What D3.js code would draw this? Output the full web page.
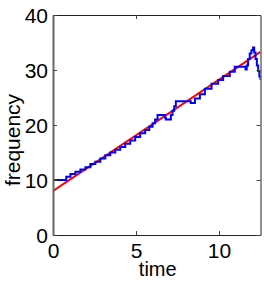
<!DOCTYPE html>
<html>
<head>
<meta charset="utf-8">
<script src="https://cdn.jsdelivr.net/npm/d3@7"></script>
<style>
  body { margin: 0; background: #fff; }
  svg { display: block; font-family: "Liberation Sans", Arial, sans-serif; }
</style>
</head>
<body>
<svg id="chart" width="264" height="281"></svg>
<script>
// eixo x (tempo) e eixo y (frequencia)
const xTicks = [0, 5, 10];
const yTicks = [0, 10, 20, 30, 40];

// serie medida (azul), em degraus
const blueTime = [0, 0.8, 1.05, 1.35, 1.65, 1.95, 2.25, 2.55, 2.85, 3.15, 3.45, 3.75,
  4.05, 4.35, 4.65, 4.95, 5.25, 5.55, 5.8, 6.0, 6.15, 6.3, 6.75, 6.8, 7.1, 7.2, 7.3, 7.4,
  8.3, 8.55, 8.85, 9.15, 9.55, 9.95, 10.25, 10.65, 10.95, 11.6, 11.67, 11.75, 11.85,
  11.95, 12.05, 12.12, 12.2, 12.28, 12.36, 12.43, 12.5];
const blueFreq = [10.0, 10.6, 11.1, 11.5, 11.9, 12.3, 12.9, 13.3, 13.9, 14.5, 15.0, 15.5,
  16.0, 16.6, 17.2, 17.8, 18.5, 19.1, 19.7, 20.3, 21.0, 21.8, 21.3, 21.0, 21.8, 22.6, 23.4, 24.3,
  24.0, 24.8, 25.6, 26.6, 27.5, 28.2, 28.9, 29.7, 30.6, 30.1, 30.8, 32.0, 33.0,
  33.6, 34.1, 33.2, 32.0, 30.8, 29.8, 28.8, 28.2];

// ajuste linear (vermelho)
const redTime = [0, 12.5];
const redFreq = [8.0, 33.3];

const vis = {
  dims: { w: 264, h: 281, left: 53, right: 260.5, top: 15, bottom: 235 },

  draw: function() {
    const d = vis.dims;
    const svg = d3.select("#chart");

    const x = d3.scaleLinear().domain([0, 12.5]).range([d.left, d.right]);
    const y = d3.scaleLinear().domain([0, 40]).range([d.bottom, d.top]);

    svg.append("clipPath").attr("id", "clip")
      .append("rect")
      .attr("x", d.left).attr("y", d.top)
      .attr("width", d.right - d.left).attr("height", d.bottom - d.top);

    const line = d3.line().x(p => x(p[0])).y(p => y(p[1]));

    const red = redTime.map((t, i) => [t, redFreq[i]]);
    const blue = blueTime.map((t, i) => [t, blueFreq[i]]);

    svg.append("path")
      .attr("clip-path", "url(#clip)")
      .attr("d", line(red))
      .attr("fill", "none")
      .attr("stroke", "#ff0000")
      .attr("stroke-width", 2);

    svg.append("path")
      .attr("clip-path", "url(#clip)")
      .attr("d", line.curve(d3.curveStepAfter)(blue))
      .attr("fill", "none")
      .attr("stroke", "#0000ff")
      .attr("stroke-width", 2);

    // eixos (ticks para dentro, em todos os lados)
    const tickLen = 4;
    const bottomAxis = svg.append("g").attr("transform", `translate(0,${d.bottom})`)
      .call(d3.axisBottom(x).tickValues(xTicks).tickSizeInner(-tickLen).tickSizeOuter(0).tickPadding(8));
    const topAxis = svg.append("g").attr("transform", `translate(0,${d.top})`)
      .call(d3.axisTop(x).tickValues(xTicks).tickSizeInner(-tickLen).tickSizeOuter(0).tickFormat(""));
    const leftAxis = svg.append("g").attr("transform", `translate(${d.left},0)`)
      .call(d3.axisLeft(y).tickValues(yTicks).tickSizeInner(-tickLen).tickSizeOuter(0).tickPadding(5));
    const rightAxis = svg.append("g").attr("transform", `translate(${d.right},0)`)
      .call(d3.axisRight(y).tickValues(yTicks).tickSizeInner(-tickLen).tickSizeOuter(0).tickFormat(""));

    [bottomAxis, topAxis, leftAxis, rightAxis].forEach(g => {
      g.select(".domain").attr("stroke", "#222").attr("stroke-width", 1);
      g.selectAll(".tick line").attr("stroke", "#444");
      g.selectAll("text")
        .attr("fill", "#000")
        .style("font-size", "21px")
        .style("font-family", "'Liberation Sans', Arial, sans-serif");
    });
    leftAxis.select(".domain").attr("stroke", "#666").attr("stroke-width", 2);
    leftAxis.selectAll("text").attr("dy", "0.36em");
    bottomAxis.selectAll("text").attr("dy", "0.72em");

    svg.append("text")
      .attr("x", (d.left + d.right) / 2 + 1)
      .attr("y", 276)
      .attr("text-anchor", "middle")
      .style("font-size", "20px")
      .text("time");

    svg.append("text")
      .attr("transform", `translate(20,${(d.top + d.bottom) / 2 + 15}) rotate(-90)`)
      .attr("text-anchor", "middle")
      .style("font-size", "21px")
      .text("frequency");
  }
};

vis.draw();
</script>
</body>
</html>
